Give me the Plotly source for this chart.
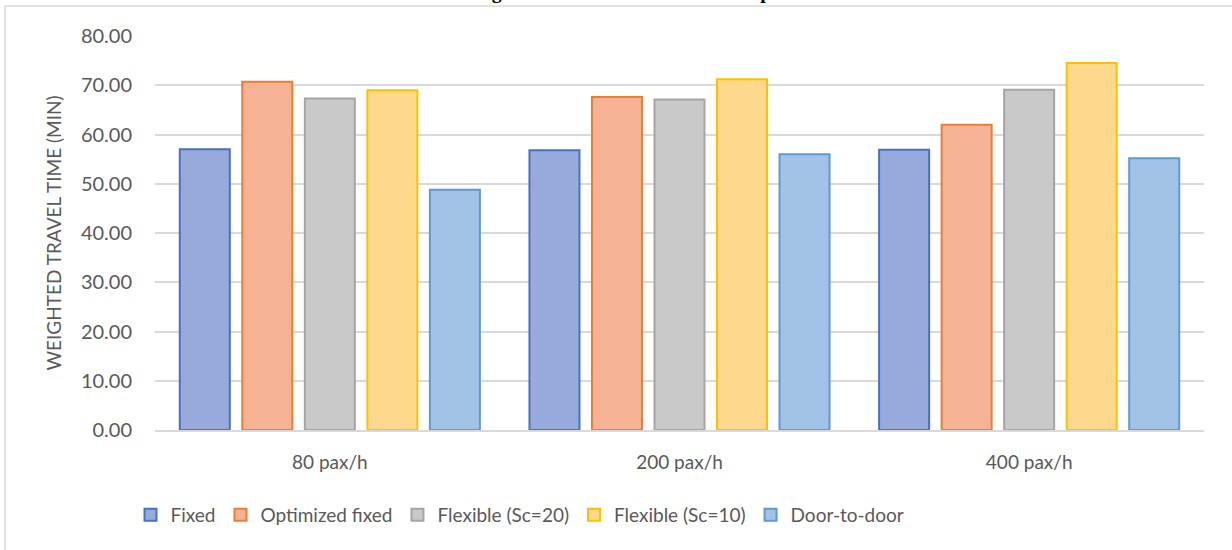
import plotly.graph_objects as go

categories = ["80 pax/h", "200 pax/h", "400 pax/h"]
series_names = ["Fixed", "Optimized fixed", "Flexible (Sc=20)", "Flexible (Sc=10)", "Door-to-door"]
fixed = [57.0, 56.8, 56.9]
optimized_fixed = [70.7, 67.6, 62.0]
flexible_sc20 = [67.3, 67.1, 69.1]
flexible_sc10 = [69.0, 71.2, 74.5]
door_to_door = [48.8, 56.0, 55.2]
y_ticks = [0, 10, 20, 30, 40, 50, 60, 70, 80]
y_tick_labels = ["0.00", "10.00", "20.00", "30.00", "40.00", "50.00", "60.00", "70.00", "80.00"]

values = [fixed, optimized_fixed, flexible_sc20, flexible_sc10, door_to_door]
fills = ["#98AADB", "#F5B295", "#C9C9C9", "#FED88C", "#A3C3E6"]
lines = ["#4472C4", "#ED7D31", "#A5A5A5", "#FFC000", "#5B9BD5"]

FONT = "Lato"
W, H = 1232, 550
ML, MR, MT, MB = 155, 28, 36, 120
pw = W - ML - MR
ph = H - MT - MB

fig = go.Figure()
for name, vals, fc, lc in zip(series_names, values, fills, lines):
    fig.add_trace(go.Bar(
        x=categories, y=vals, name=name,
        marker=dict(color=fc, line=dict(color=lc, width=2)),
    ))

# chart area border (left and top visible)
bx = (5 - ML) / pw
by = (H - MB - 6) / ph
fig.add_shape(type="line", xref="paper", yref="paper", x0=bx, x1=bx, y0=by, y1=-0.5,
              line=dict(color="#D9D9D9", width=1.5))
fig.add_shape(type="line", xref="paper", yref="paper", x0=bx, x1=1.2, y0=by, y1=by,
              line=dict(color="#D9D9D9", width=1.5))

fig.add_annotation(
    text="<b>Figure 7: Simulated total ridership.</b>",
    xref="paper", yref="paper", x=(625 - ML) / pw, y=by + 1 / ph,
    xanchor="center", yanchor="bottom", showarrow=False,
    font=dict(family="Liberation Serif", size=20, color="#000000"),
)

fig.update_layout(
    width=W, height=H,
    margin=dict(l=ML, r=MR, t=MT, b=MB),
    paper_bgcolor="white", plot_bgcolor="white",
    barmode="group", bargap=0.106, bargroupgap=0.2,
    font=dict(family=FONT, size=19, color="#595959"),
    showlegend=True,
    legend=dict(orientation="h", x=(520 - ML) / pw, xanchor="center",
                y=-(515 - (H - MB)) / ph, yanchor="middle",
                font=dict(family=FONT, size=19, color="#595959"),
                itemwidth=30, traceorder="normal"),
    xaxis=dict(showgrid=False, showline=True, linecolor="#D9D9D9", linewidth=1.5,
               ticks="", tickfont=dict(size=19, color="#595959"), ticklabelstandoff=14),
    yaxis=dict(range=[0, 80], tickvals=y_ticks, ticktext=y_tick_labels,
               showgrid=True, gridcolor="#D9D9D9", gridwidth=1.5, zeroline=False,
               showline=False, ticks="", tickfont=dict(size=20, color="#595959"),
               ticklabelstandoff=22,
               title=dict(text="WEIGHTED TRAVEL TIME (MIN)", standoff=14,
                          font=dict(size=19, color="#595959"))),
)

fig.write_html("out.html", config={"displayModeBar": False},
               post_script="document.body.style.margin='0';document.body.style.overflow='hidden';")
